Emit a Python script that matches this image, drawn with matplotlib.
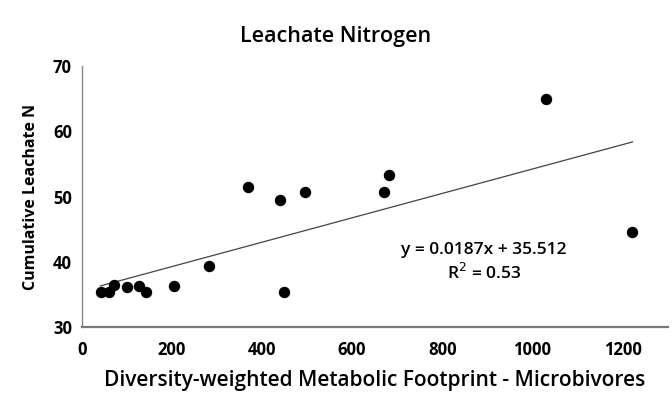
import numpy as np
from matplotlib import pyplot as plt

# values
footprint = [42, 61, 72, 100, 127, 143, 205, 283, 370, 441, 450, 496, 671, 682, 1030, 1222]
leachate_n = [35.4, 35.4, 36.4, 36.2, 36.3, 35.4, 36.3, 39.3, 51.4, 49.4, 35.4, 50.7, 50.7, 53.3, 64.9, 44.5]
slope, intercept, r2 = 0.0187, 35.512, 0.53
x_ticks = [0, 200, 400, 600, 800, 1000, 1200]
y_ticks = [30, 40, 50, 60, 70]

plt.rcParams['font.family'] = ['Open Sans', 'DejaVu Sans']

fig = plt.figure(figsize=(6.72, 3.93), dpi=100)
ax = fig.add_axes([0.1215, 0.168, 0.872, 0.664])

ax.scatter(footprint, leachate_n, s=52, color='black', zorder=3)

trend_x = np.array([min(footprint), max(footprint)])
ax.plot(trend_x, slope * trend_x + intercept, color='#444444', lw=0.9)

ax.set_xlim(0, 1300)
ax.set_ylim(30, 70)
ax.set_xticks(x_ticks)
ax.set_yticks(y_ticks)
ax.tick_params(length=0, labelsize=12, pad=7)
ax.tick_params(axis='x', pad=10)
for lbl in ax.get_xticklabels() + ax.get_yticklabels():
    lbl.set_fontweight('bold')

for side in ('top', 'right'):
    ax.spines[side].set_visible(False)
ax.spines['left'].set_color('#888888')
ax.spines['left'].set_linewidth(1.0)
ax.spines['bottom'].set_color('#777777')
ax.spines['bottom'].set_linewidth(1.6)

ax.text(892, 41.8, f'y = {slope}x + {intercept}', ha='center', va='center',
        fontsize=12.5, fontweight='semibold')
ax.text(892, 38.3, f'R$^2$ = {r2}', ha='center', va='center',
        fontsize=12.5, fontweight='semibold')

ax.set_xlabel('Diversity-weighted Metabolic Footprint - Microbivores',
              fontsize=15, fontweight='semibold', labelpad=8)
ax.set_ylabel('Cumulative Leachate N', fontsize=11.5, fontweight='bold', labelpad=10)
fig.text(0.5, 0.906, 'Leachate Nitrogen', ha='center', va='center',
         fontsize=15.5, fontweight='semibold')

fig.savefig('out.png', dpi=100)
